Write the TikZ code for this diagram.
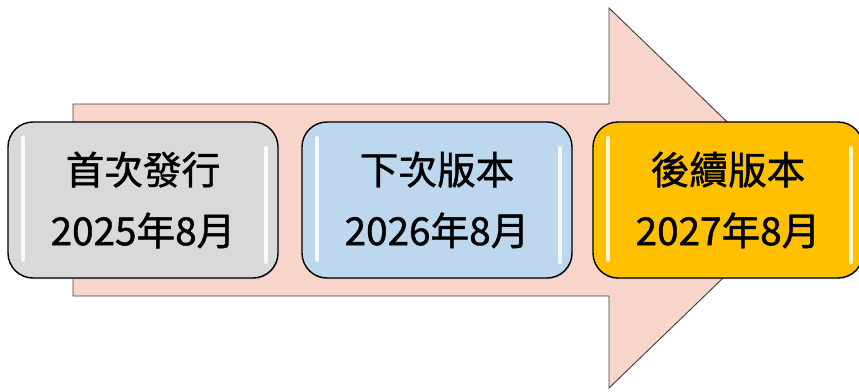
\documentclass[tikz,border=0pt]{standalone}
\usepackage{fontspec}
\setmainfont{Noto Sans CJK TC}
\newfontfamily\versionfont{Noto Sans CJK TC}[FakeBold=1.2]
\usetikzlibrary{shadows}

\definecolor{arrowpink}{HTML}{F8D5CB}
\definecolor{firstgray}{HTML}{D9D9D9}
\definecolor{nextblue}{HTML}{BDD7EE}
\definecolor{lateorange}{HTML}{FFC000}

\tikzset{
  version/.style={draw=black, line width=1.2pt, rounded corners=0.75cm,
    minimum width=8.1cm, minimum height=4.68cm, align=center,
    font=\versionfont\fontsize{33}{52}\selectfont,
    drop shadow={opacity=0.25, shadow xshift=0.6pt, shadow yshift=-1.2pt}},
  gloss/.style={white, line width=3.5pt, line cap=round, opacity=0.85}
}

\begin{document}
\begin{tikzpicture}[x=0.03cm, y=-0.03cm]

\useasboundingbox (0,0) rectangle (859,392);

\draw [draw=black!75, fill=arrowpink, line width=0.8pt]
  (73,104) -- (609,104) -- (609,8) -- (806,198) -- (609,388) -- (609,296) -- (73,296) -- cycle;

\node [version, fill=firstgray]  (first) at (143,200) {首次發行\\2025年8月};
\node [version, fill=nextblue]   (next)  at (437,200) {下次版本\\2026年8月};
\node [version, fill=lateorange] (later) at (728,200) {後續版本\\2027年8月};

\foreach \vname in {first,next,later}{
   \draw [gloss] ([shift={(-120,-62)}]\vname.center) -- ([shift={(-120,60)}]\vname.center);
   \draw [gloss] ([shift={(123,-52)}]\vname.center) -- ([shift={(123,62)}]\vname.center);
}

\end{tikzpicture}
\end{document}
